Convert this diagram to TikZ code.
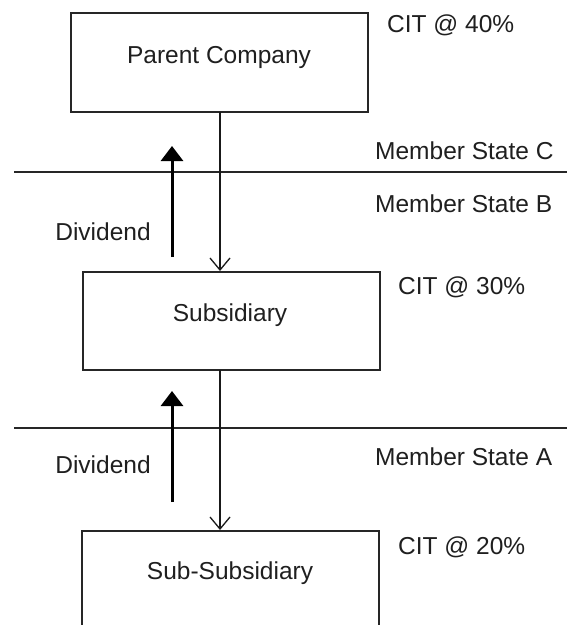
\documentclass[tikz,border=0pt]{standalone}
\usepackage{fontspec}
\setmainfont{Liberation Sans}
\usetikzlibrary{arrows.meta}
\begin{document}
\begin{tikzpicture}[x=1pt,y=-1pt,
  box/.style={draw=black!85,line width=1.5pt,fill=none,inner sep=0pt},
  lbl/.style={inner sep=0pt,font=\fontsize{24.5}{28}\selectfont,text=black!88},
  sidelbl/.style={lbl,anchor=base west},
  sep/.style={draw=black!85,line width=1.4pt},
  flow/.style={draw=black!90,line width=1.3pt,-{Straight Barb[length=12pt,width=20pt,line width=1.3pt]}},
  div/.style={draw=black,line width=3pt,-{Triangle[length=15pt,width=22pt]}}]
\useasboundingbox (0,0) rectangle (567,625);
\clip (0,0) rectangle (567,625);
% boxes
\node[box,minimum width=297pt,minimum height=99pt] (parent) at (219.5,62.5) {};
\node[box,minimum width=297pt,minimum height=98pt] (sub) at (231.5,321) {};
\node[box,minimum width=297pt,minimum height=150pt] (subsub) at (230.5,606) {};
% box texts
\node[lbl] (tparent) at (219,57) {Parent Company};
\node[lbl] (tsub) at (230,315) {Subsidiary};
\node[lbl] (tsubsub) at (230,573) {Sub-Subsidiary};
% separators
\coordinate (c1l) at (14,172); \coordinate (c1r) at (567,172);
\coordinate (c2l) at (14,428); \coordinate (c2r) at (567,428);
\draw[sep] (c1l) -- (c1r);
\draw[sep] (c2l) -- (c2r);
% side labels
\node[sidelbl] (cit40) at (387,32) {CIT @ 40\%};
\node[sidelbl] (msc) at (375,159) {Member State C};
\node[sidelbl] (msb) at (375,212) {Member State B};
\node[sidelbl] (cit30) at (398,294) {CIT @ 30\%};
\node[sidelbl] (msa) at (375,465) {Member State A};
\node[sidelbl] (cit20) at (398,554) {CIT @ 20\%};
\node[lbl] (div1) at (103,232) {Dividend};
\node[lbl] (div2) at (103,465) {Dividend};
% flows
\coordinate (p1) at (220,112); \coordinate (s1) at (220,271);
\coordinate (p2) at (220,370); \coordinate (s2) at (220,530);
\draw[flow] (p1) -- (s1);
\draw[flow] (p2) -- (s2);
\coordinate (d1a) at (172,257); \coordinate (d1b) at (172,146);
\coordinate (d2a) at (172,502); \coordinate (d2b) at (172,391);
\draw[div] (d1a) -- (d1b);
\draw[div] (d2a) -- (d2b);
\end{tikzpicture}
\end{document}
